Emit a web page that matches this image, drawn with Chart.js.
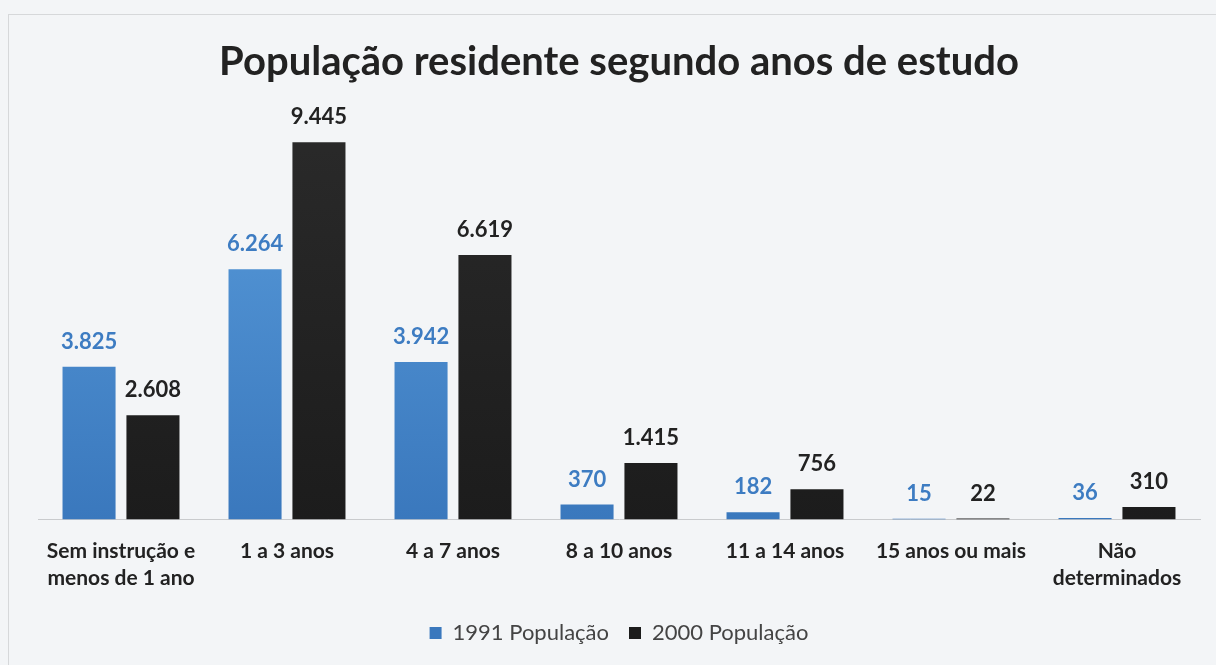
<!DOCTYPE html>
<html>
<head>
<meta charset="utf-8">
<script src="https://cdn.jsdelivr.net/npm/chart.js@4.4.0/dist/chart.umd.min.js"></script>
<style>
  body { margin: 0; background: #f3f5f7; }
  #box { position: absolute; left: 8px; top: 14px; width: 1216px; height: 660px; border: 1px solid #d6d8da; border-right: none; border-bottom: none; }
  #wrap { position: absolute; left: 0; top: 0; width: 1216px; height: 665px; }
</style>
</head>
<body>
<div id="box"></div>
<div id="wrap"><canvas id="myChart"></canvas></div>
<script>
var categories = [
    ['Sem instrução e', 'menos de 1 ano'],
    '1 a 3 anos',
    '4 a 7 anos',
    '8 a 10 anos',
    '11 a 14 anos',
    '15 anos ou mais',
    ['Não', 'determinados']
];
var pop1991 = [3825, 6264, 3942, 370, 182, 15, 36];
var pop2000 = [2608, 9445, 6619, 1415, 756, 22, 310];
var seriesNames = ['1991 População', '2000 População'];
var labelColors = ['#3d7cc2', '#222222'];

var FONT = 'Lato, "Open Sans", sans-serif';

function fmt(v) {
    return v.toLocaleString('pt-BR');
}

function blueFill(context) {
    var chart = context.chart;
    var area = chart.chartArea;
    if (!area) return '#4a8ad0';
    var g = chart.ctx.createLinearGradient(0, area.top, 0, area.bottom);
    g.addColorStop(0, '#5a9ddc');
    g.addColorStop(1, '#3a78bd');
    return g;
}

function darkFill(context) {
    var chart = context.chart;
    var area = chart.chartArea;
    if (!area) return '#222';
    var g = chart.ctx.createLinearGradient(0, area.top, 0, area.bottom);
    g.addColorStop(0, '#2a2a2a');
    g.addColorStop(1, '#1c1c1c');
    return g;
}

// draws the value above each bar
var valueLabels = {
    id: 'valueLabels',
    afterDatasetsDraw: function(chart) {
        var ctx = chart.ctx;
        ctx.save();
        ctx.font = 'bold 22px ' + FONT;
        ctx.textAlign = 'center';
        ctx.textBaseline = 'middle';
        chart.data.datasets.forEach(function(ds, i) {
            var meta = chart.getDatasetMeta(i);
            ctx.fillStyle = labelColors[i];
            meta.data.forEach(function(bar, j) {
                ctx.fillText(fmt(ds.data[j]), bar.x, bar.y - 25);
            });
        });
        ctx.restore();
    }
};

var ctx = document.getElementById('myChart').getContext('2d');
var chart = new Chart(ctx, {
    type: 'bar',
    data: {
        labels: categories,
        datasets: [{
            label: seriesNames[0],
            data: pop1991,
            backgroundColor: blueFill,
            categoryPercentage: 0.77,
            barPercentage: 0.83
        }, {
            label: seriesNames[1],
            data: pop2000,
            backgroundColor: darkFill,
            categoryPercentage: 0.77,
            barPercentage: 0.83
        }]
    },
    options: {
        responsive: true,
        maintainAspectRatio: false,
        animation: false,
        layout: { padding: { left: 38, right: 16, top: 20, bottom: 11 } },
        plugins: {
            title: {
                display: true,
                text: 'População residente segundo anos de estudo',
                color: '#222',
                font: { family: FONT, size: 40, weight: 'bold' },
                padding: { top: 18, bottom: 34 }
            },
            legend: {
                position: 'bottom',
                labels: {
                    color: '#444',
                    font: { family: FONT, size: 22 },
                    boxWidth: 12,
                    boxHeight: 12,
                    padding: 20
                }
            },
            tooltip: { enabled: false }
        },
        scales: {
            x: {
                grid: { display: false },
                border: { color: '#c9cbcd', width: 1 },
                ticks: {
                    color: '#222',
                    font: { family: FONT, size: 21, weight: 'bold', lineHeight: 1.3 },
                    padding: 10,
                    maxRotation: 0,
                    autoSkip: false
                }
            },
            y: {
                display: false,
                min: 0,
                max: 10000
            }
        }
    },
    plugins: [valueLabels]
});
</script>
</body>
</html>
